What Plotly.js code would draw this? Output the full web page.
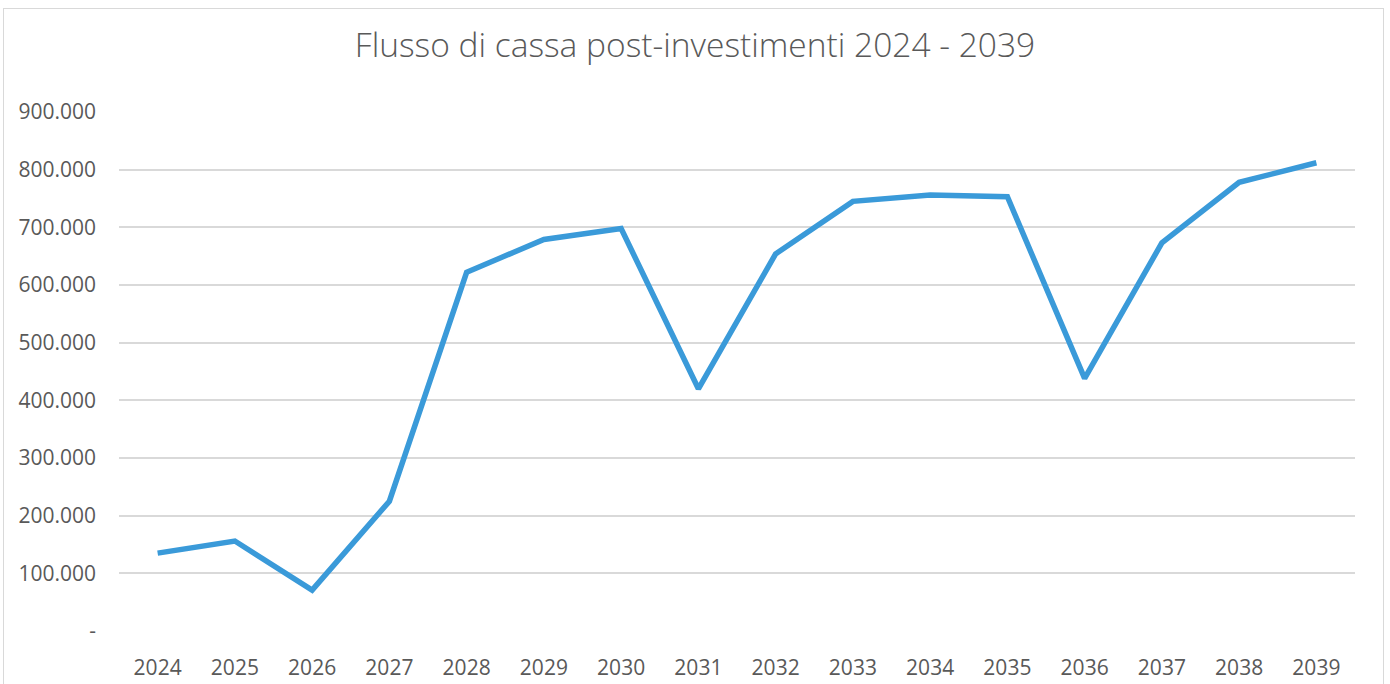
<!DOCTYPE html>
<html>
<head>
<meta charset="utf-8">
<script src="https://cdn.plot.ly/plotly-3.0.1.min.js"></script>
<style>
html,body{margin:0;padding:0;background:#fff;}
#wrap{position:relative;width:1390px;height:684px;overflow:hidden;}
#chart{position:absolute;left:0;top:0;width:1390px;height:684px;}
#border{position:absolute;left:3px;top:8px;width:1379px;height:700px;border:1.5px solid #d9d9d9;pointer-events:none;}
</style>
</head>
<body>
<div id="wrap"><div id="chart"></div><div id="border"></div></div>
<script>
var years = ["2024","2025","2026","2027","2028","2029","2030","2031","2032","2033","2034","2035","2036","2037","2038","2039"];
var cashFlow = [135000,156000,71000,225000,622000,679000,698000,420000,654000,745000,756000,753000,438000,673000,778000,812000];
var yTickVals = [0,100000,200000,300000,400000,500000,600000,700000,800000,900000];
var yTickText = ["-","100.000","200.000","300.000","400.000","500.000","600.000","700.000","800.000","900.000"];
var chartTitle = "Flusso di cassa post-investimenti 2024 - 2039";

var font = "Open Sans, Lato, sans-serif";
var trace = {
  x: years, y: cashFlow, type: "scatter", mode: "lines",
  line: {color: "#3A9AD9", width: 5.5, shape: "linear"},
  hoverinfo: "x+y"
};
var layout = {
  width: 1390, height: 684,
  margin: {l: 119.4, r: 35.4, t: 112.3, b: 53},
  paper_bgcolor: "#fff", plot_bgcolor: "#fff",
  showlegend: false,
  title: {text: chartTitle, font: {family: font, size: 33.5, weight: 300, color: "#595959"}, x: 0.5, xanchor: "center", xref: "container", y: 0.934, yanchor: "middle", yref: "container"},
  xaxis: {
    type: "category", range: [-0.5, 15.5], showgrid: false, zeroline: false, showline: false,
    ticks: "", tickfont: {family: font, size: 21, color: "#595959"}, ticklabelstandoff: 22, fixedrange: true
  },
  yaxis: {
    range: [0, 900000], tickvals: yTickVals, ticktext: yTickText, showgrid: true,
    gridcolor: "#d9d9d9", gridwidth: 2, zeroline: false, showline: false,
    ticks: "", tickfont: {family: font, size: 21, color: "#595959"}, ticklabelstandoff: 22, fixedrange: true
  }
};
Plotly.newPlot("chart", [trace], layout, {displayModeBar: false, staticPlot: true});
</script>
</body>
</html>
